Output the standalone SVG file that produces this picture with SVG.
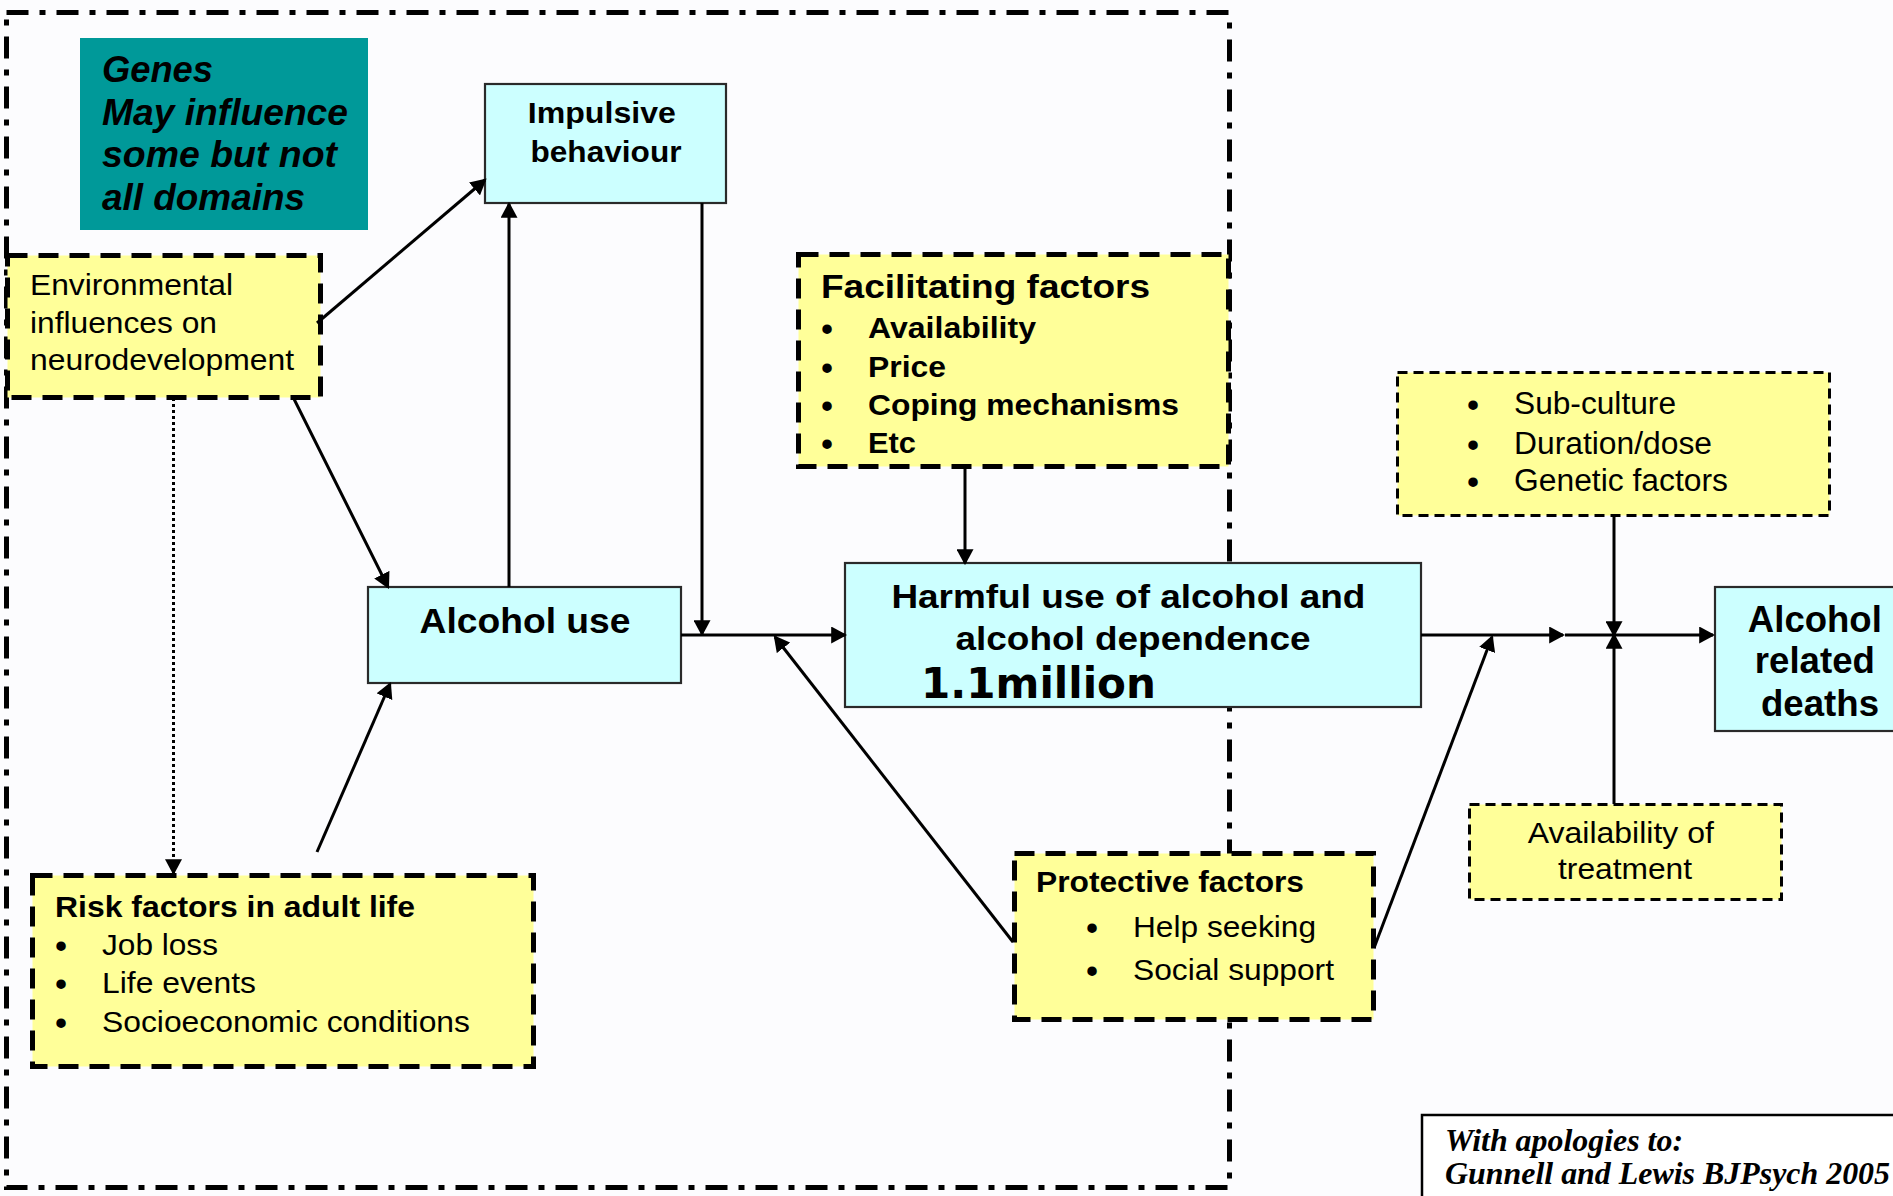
<svg xmlns="http://www.w3.org/2000/svg" width="1893" height="1196" viewBox="0 0 1893 1196">
<style>
.sans{font-family:"Liberation Sans",Arial,sans-serif;fill:#000}
.b{font-weight:bold}
.bi{font-weight:bold;font-style:italic}
.serif{font-family:"Liberation Serif","Times New Roman",serif;font-weight:bold;font-style:italic;fill:#000}
.bul{font-family:"Liberation Sans",Arial,sans-serif;fill:#000;font-size:33px;font-weight:bold;text-anchor:middle}
.cyan{fill:#CCFFFF;stroke:#2a2a2a;stroke-width:2.2}
.yel{fill:#FFFF99;stroke:#000;stroke-width:5;stroke-dasharray:20 11}
.yelthin{fill:#FFFF99;stroke:#000;stroke-width:3;stroke-dasharray:10 6}
.con{fill:none;stroke:#000;stroke-width:3}
.dot{stroke-dasharray:3 3}
</style>
<defs>
<marker id="ah" markerUnits="userSpaceOnUse" markerWidth="16" markerHeight="17" viewBox="0 0 15 16" refX="13" refY="8" orient="auto">
<path d="M0,0 L15,8 L0,16 z" fill="#000"/>
</marker>
</defs>
<rect x="0" y="0" width="1893" height="1196" fill="#FCFCFE"/>

<g id="frame">
<rect x="6.5" y="12.5" width="1223" height="1175" fill="none" stroke="#000" stroke-width="5" stroke-dasharray="22 11 6 11"/>
</g>

<g id="genes">
<rect x="80" y="38" width="288" height="192" fill="#009999"/>
<text class="sans bi" font-size="37">
<tspan x="102" y="82" textLength="111" lengthAdjust="spacingAndGlyphs">Genes</tspan>
<tspan x="102" y="125" textLength="246" lengthAdjust="spacingAndGlyphs">May influence</tspan>
<tspan x="102" y="167" textLength="235" lengthAdjust="spacingAndGlyphs">some but not</tspan>
<tspan x="102" y="210" textLength="203" lengthAdjust="spacingAndGlyphs">all domains</tspan>
</text>
</g>

<g id="impulsive">
<rect class="cyan" x="485" y="84" width="241" height="119"/>
<text class="sans b" font-size="30" text-anchor="middle">
<tspan x="606" y="123" textLength="148" lengthAdjust="spacingAndGlyphs">Impulsive</tspan>
<tspan x="606" y="162" textLength="151" lengthAdjust="spacingAndGlyphs">behaviour</tspan>
</text>
</g>

<g id="environmental">
<rect class="yel" x="7.5" y="255.5" width="313" height="142"/>
<text class="sans" font-size="30">
<tspan x="30" y="295" textLength="203" lengthAdjust="spacingAndGlyphs">Environmental</tspan>
<tspan x="30" y="333" textLength="187" lengthAdjust="spacingAndGlyphs">influences on</tspan>
<tspan x="30" y="370" textLength="264" lengthAdjust="spacingAndGlyphs">neurodevelopment</tspan>
</text>
</g>

<g id="alcohol-use">
<rect class="cyan" x="368" y="587" width="313" height="96"/>
<text class="sans b" font-size="35" text-anchor="middle" x="525" y="633" textLength="211" lengthAdjust="spacingAndGlyphs">Alcohol use</text>
</g>

<g id="facilitating">
<rect class="yel" x="798.5" y="254.5" width="430" height="212"/>
<text class="sans b" font-size="33" x="821" y="298" textLength="329" lengthAdjust="spacingAndGlyphs">Facilitating factors</text>
<text class="bul">
<tspan x="827" y="340">•</tspan><tspan x="827" y="379">•</tspan><tspan x="827" y="417">•</tspan><tspan x="827" y="455">•</tspan>
</text>
<text class="sans b" font-size="30">
<tspan x="868" y="338" textLength="168" lengthAdjust="spacingAndGlyphs">Availability</tspan>
<tspan x="868" y="377" textLength="78" lengthAdjust="spacingAndGlyphs">Price</tspan>
<tspan x="868" y="415" textLength="311" lengthAdjust="spacingAndGlyphs">Coping mechanisms</tspan>
<tspan x="868" y="453" textLength="48" lengthAdjust="spacingAndGlyphs">Etc</tspan>
</text>
</g>

<g id="harmful">
<rect class="cyan" x="845" y="563" width="576" height="144"/>
<text class="sans b" font-size="33" text-anchor="middle">
<tspan x="1133" y="608" textLength="474" lengthAdjust="spacingAndGlyphs">Harmful use of alcohol and</tspan>
<tspan x="1133" y="650" textLength="355" lengthAdjust="spacingAndGlyphs">alcohol dependence</tspan>
</text>
<text font-family="'DejaVu Sans',sans-serif" font-weight="bold" font-size="43" x="921" y="698" textLength="235" lengthAdjust="spacingAndGlyphs">1.1million</text>
</g>

<g id="subculture">
<rect class="yelthin" x="1397.5" y="372.5" width="432" height="143"/>
<text class="bul">
<tspan x="1473" y="416">•</tspan><tspan x="1473" y="456">•</tspan><tspan x="1473" y="493">•</tspan>
</text>
<text class="sans" font-size="31">
<tspan x="1514" y="414" textLength="162" lengthAdjust="spacingAndGlyphs">Sub-culture</tspan>
<tspan x="1514" y="454" textLength="198" lengthAdjust="spacingAndGlyphs">Duration/dose</tspan>
<tspan x="1514" y="491" textLength="214" lengthAdjust="spacingAndGlyphs">Genetic factors</tspan>
</text>
</g>

<g id="deaths">
<rect class="cyan" x="1715" y="587" width="190" height="144"/>
<text class="sans b" font-size="37" text-anchor="middle">
<tspan x="1820" y="632" textLength="134" lengthAdjust="spacingAndGlyphs">Alcohol</tspan>
<tspan x="1820" y="673" textLength="120" lengthAdjust="spacingAndGlyphs">related</tspan>
<tspan x="1820" y="716" textLength="118" lengthAdjust="spacingAndGlyphs">deaths</tspan>
</text>
</g>

<g id="treatment">
<rect class="yelthin" x="1469.5" y="804.5" width="312" height="95"/>
<text class="sans" font-size="30" text-anchor="middle">
<tspan x="1625" y="843" textLength="186" lengthAdjust="spacingAndGlyphs">Availability of</tspan>
<tspan x="1625" y="879" textLength="134" lengthAdjust="spacingAndGlyphs">treatment</tspan>
</text>
</g>

<g id="protective">
<rect class="yel" x="1014.5" y="853.5" width="359" height="166"/>
<text class="sans b" font-size="30" x="1036" y="892" textLength="268" lengthAdjust="spacingAndGlyphs">Protective factors</text>
<text class="bul">
<tspan x="1092" y="939">•</tspan><tspan x="1092" y="982">•</tspan>
</text>
<text class="sans" font-size="30">
<tspan x="1133" y="937" textLength="183" lengthAdjust="spacingAndGlyphs">Help seeking</tspan>
<tspan x="1133" y="980" textLength="201" lengthAdjust="spacingAndGlyphs">Social support</tspan>
</text>
</g>

<g id="risk">
<rect class="yel" x="32.5" y="875.5" width="501" height="191"/>
<text class="sans b" font-size="30" x="55" y="917" textLength="360" lengthAdjust="spacingAndGlyphs">Risk factors in adult life</text>
<text class="bul">
<tspan x="61" y="957">•</tspan><tspan x="61" y="995">•</tspan><tspan x="61" y="1034">•</tspan>
</text>
<text class="sans" font-size="30">
<tspan x="102" y="955" textLength="116" lengthAdjust="spacingAndGlyphs">Job loss</tspan>
<tspan x="102" y="993" textLength="154" lengthAdjust="spacingAndGlyphs">Life events</tspan>
<tspan x="102" y="1032" textLength="368" lengthAdjust="spacingAndGlyphs">Socioeconomic conditions</tspan>
</text>
</g>

<g id="citation">
<rect x="1422" y="1115" width="480" height="100" fill="#fff" stroke="#000" stroke-width="2.5"/>
<text class="serif" font-size="32">
<tspan x="1445" y="1151" textLength="238" lengthAdjust="spacingAndGlyphs">With apologies to:</tspan>
<tspan x="1445" y="1184" textLength="445" lengthAdjust="spacingAndGlyphs">Gunnell and Lewis BJPsych 2005</tspan>
</text>
</g>

<g id="connectors">
<path class="con" d="M317,323 L485,180" marker-end="url(#ah)"/>
<path class="con" d="M293,397 L388,587" marker-end="url(#ah)"/>
<path class="con" d="M509,587 L509,204" marker-end="url(#ah)"/>
<path class="con" d="M702,203 L702,634" marker-end="url(#ah)"/>
<path class="con" d="M681,635 L845,635" marker-end="url(#ah)"/>
<path class="con" d="M965,468 L965,563" marker-end="url(#ah)"/>
<path class="con" d="M1013,942 L775,637" marker-end="url(#ah)"/>
<path class="con" d="M317,852 L390,684" marker-end="url(#ah)"/>
<path class="con dot" d="M173.5,398 L173.5,873" marker-end="url(#ah)"/>
<path class="con" d="M1421,635 L1563,635" marker-end="url(#ah)"/>
<path class="con" d="M1374,948 L1492,637" marker-end="url(#ah)"/>
<path class="con" d="M1565,635 L1713,635" marker-end="url(#ah)"/>
<path class="con" d="M1614,516 L1614,635" marker-end="url(#ah)"/>
<path class="con" d="M1614,804 L1614,635" marker-end="url(#ah)"/>
</g>
</svg>
